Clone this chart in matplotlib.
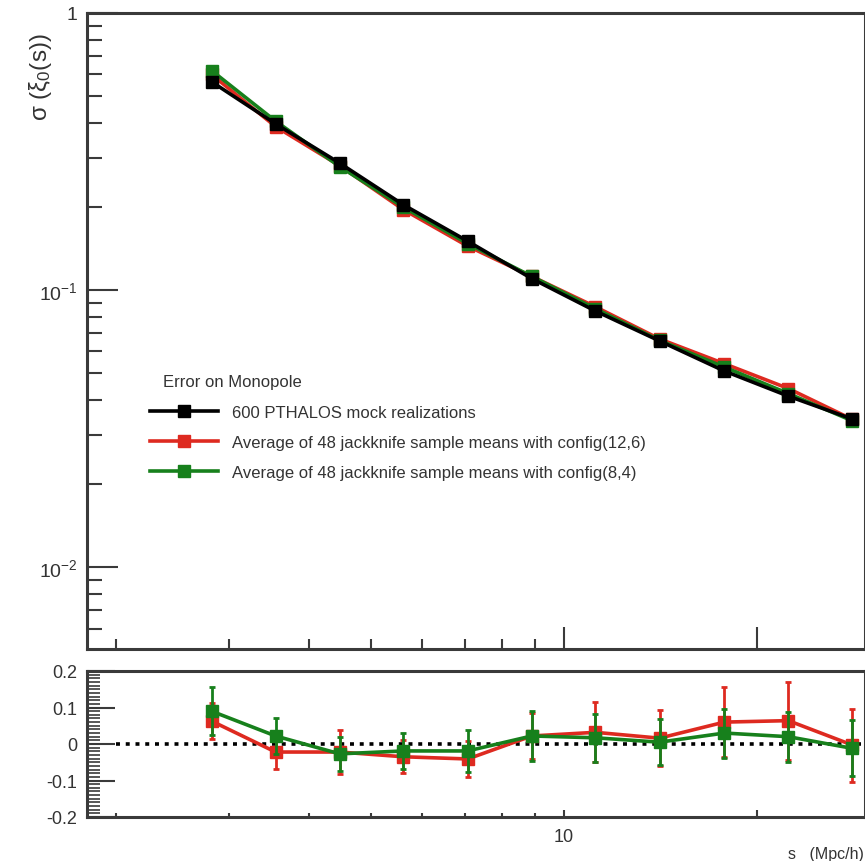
import matplotlib
matplotlib.use('Agg')
import matplotlib.pyplot as plt
from matplotlib.ticker import FixedLocator, NullFormatter

plt.rcParams['font.family'] = ['Liberation Sans', 'DejaVu Sans']
plt.rcParams['mathtext.fontset'] = 'custom'
plt.rcParams['mathtext.rm'] = 'Liberation Sans'
plt.rcParams['mathtext.it'] = 'Liberation Sans:italic'

# separation bins (Mpc/h)
s = [2.82, 3.55, 4.47, 5.62, 7.08, 8.91, 11.2, 14.1, 17.8, 22.4, 28.2]

# error on the monopole
sig_mock = [0.565, 0.398, 0.287, 0.203, 0.150, 0.110, 0.084, 0.0655, 0.051, 0.0414, 0.0342]
sig_jk126 = [0.600, 0.389, 0.281, 0.195, 0.144, 0.112, 0.087, 0.0666, 0.0542, 0.0441, 0.0341]
sig_jk84 = [0.620, 0.407, 0.279, 0.199, 0.147, 0.112, 0.0856, 0.0658, 0.0527, 0.0423, 0.0337]

# relative difference to the mocks
diff_126 = [0.063, -0.022, -0.022, -0.035, -0.041, 0.022, 0.032, 0.016, 0.060, 0.064, -0.003]
err_126 = [0.048, 0.046, 0.060, 0.045, 0.050, 0.063, 0.082, 0.077, 0.096, 0.107, 0.100]
diff_84 = [0.090, 0.022, -0.027, -0.019, -0.019, 0.022, 0.017, 0.005, 0.030, 0.020, -0.012]
err_84 = [0.065, 0.050, 0.047, 0.050, 0.057, 0.068, 0.066, 0.063, 0.067, 0.068, 0.077]

labels = ["600 PTHALOS mock realizations",
          "Average of 48 jackknife sample means with config(12,6)",
          "Average of 48 jackknife sample means with config(8,4)"]

red = '#de2a20'
green = '#17801c'
frame = '#3a3a3a'
txt = '#333333'

W, H = 865, 862
fig = plt.figure(figsize=(W / 100, H / 100), dpi=100)

def box(l, t, r, b):
    return [l / W, 1 - b / H, (r - l) / W, (b - t) / H]

ax = fig.add_axes(box(87, 14, 865, 650))
ax2 = fig.add_axes(box(87, 672, 865, 818))

xlo, xhi = 1.803, 29.5

for a in (ax, ax2):
    a.set_xscale('log')
    a.set_xlim(xlo, xhi)
    for sp in a.spines.values():
        sp.set_color(frame)
        sp.set_linewidth(2.2)
    a.xaxis.set_major_locator(FixedLocator([10, 20]))
    a.xaxis.set_minor_locator(FixedLocator([2, 3, 4, 5, 6, 7, 8, 9]))
    a.xaxis.set_minor_formatter(NullFormatter())
    a.tick_params(which='both', direction='in', colors=frame, labelcolor=txt,
                  labelsize=13, width=1.5)

# top panel
ax.plot(s, sig_jk126, color=red, lw=2.6, marker='s', ms=8, label=labels[1], zorder=2)
ax.plot(s, sig_jk84, color=green, lw=2.6, marker='s', ms=8, label=labels[2], zorder=3)
ax.plot(s, sig_mock, color='black', lw=2.6, marker='s', ms=8, label=labels[0], zorder=4)
ax.set_yscale('log')
ax.set_ylim(0.00506, 1.0)
ax.set_yticks([0.01, 0.1, 1], labels=['$10^{-2}$', '$10^{-1}$', '1'])
ax.yaxis.set_minor_locator(FixedLocator([m * d for d in (0.001, 0.01, 0.1) for m in range(2, 10)]))
ax.yaxis.set_minor_formatter(NullFormatter())
ax.tick_params(axis='y', which='major', length=22, pad=7, labelsize=14)
ax.tick_params(axis='y', which='minor', length=11)
ax.tick_params(axis='x', which='major', length=16, labelbottom=False)
ax.tick_params(axis='x', which='minor', length=7)

h, l = ax.get_legend_handles_labels()
order = [2, 0, 1]
ax.legend([h[i] for i in order], [l[i] for i in order],
          loc='upper left', bbox_to_anchor=(150 / W, 1 - 406 / H),
          bbox_transform=fig.transFigure, frameon=False, fontsize=12,
          handlelength=4.1, handletextpad=0.85, labelspacing=0.9,
          borderpad=0, borderaxespad=0, labelcolor=txt)
fig.text(163 / W, 1 - 383 / H, "Error on Monopole", fontsize=12,
         color=txt, va='center', ha='left')

fig.text(40 / W, 1 - 33 / H, r'σ (ξ$_0$(s))', rotation=90, fontsize=17.5,
         color=txt, ha='center', va='top')

# bottom panel
ax2.plot([2, xhi], [0, 0], color='black', lw=2.6, linestyle=(0, (1.1, 1.6)), zorder=1)
ax2.errorbar(s, diff_126, yerr=err_126, color=red, lw=2.6, elinewidth=2,
             marker='s', ms=8, capsize=2, capthick=2, zorder=2)
ax2.errorbar(s, diff_84, yerr=err_84, color=green, lw=2.6, elinewidth=2,
             marker='s', ms=8, capsize=2, capthick=2, zorder=3)
ax2.set_ylim(-0.2, 0.2)
ax2.set_yticks([-0.2, -0.1, 0, 0.1, 0.2], labels=['-0.2', '-0.1', '0', '0.1', '0.2'])
ax2.yaxis.set_minor_locator(FixedLocator([i * 0.01 for i in range(-20, 21)]))
ax2.tick_params(axis='y', which='major', length=20, pad=7)
ax2.tick_params(axis='y', which='minor', length=9, width=1.2)
ax2.set_xticks([10, 20], labels=['10', ''])
ax2.tick_params(axis='x', which='major', length=5, pad=8)
ax2.tick_params(axis='x', which='minor', length=3)

fig.text(864 / W, 1 - 855 / H, "s   (Mpc/h)", fontsize=11.5, color=txt,
         ha='right', va='center')

fig.savefig('out.png', dpi=100)
